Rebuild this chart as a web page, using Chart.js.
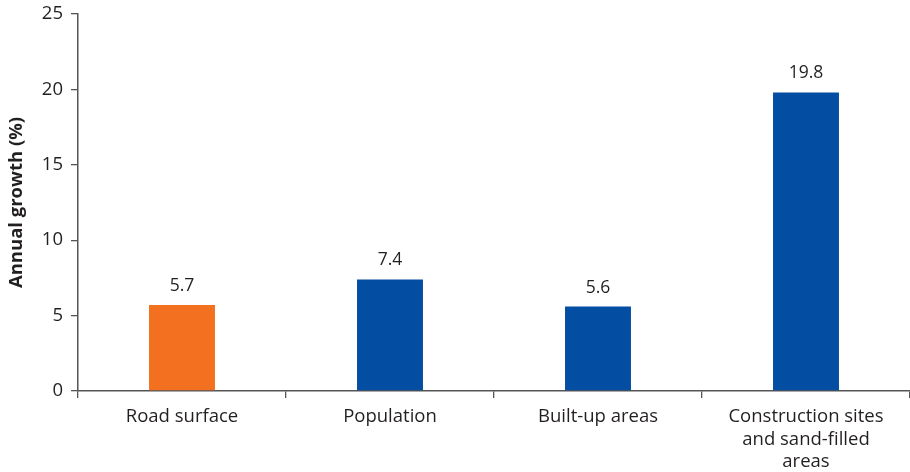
<!DOCTYPE html>
<html>
<head>
<meta charset="utf-8">
<script src="https://cdn.jsdelivr.net/npm/chart.js@4"></script>
<style>
  html, body { margin: 0; padding: 0; background: #fff; }
  #wrap { width: 910px; height: 472px; }
</style>
</head>
<body>
<div id="wrap"><canvas id="growth"></canvas></div>
<script>
const categories = [
    'Road surface',
    'Population',
    'Built-up areas',
    ['Construction sites', 'and sand-filled', 'areas']
];
const growthValues = [5.7, 7.4, 5.6, 19.8];
const barColors = ['#F37021', '#034EA2', '#034EA2', '#034EA2'];
const yTicks = [0, 5, 10, 15, 20, 25];

const axisColor = '#555555';
const textColor = '#231F20';
const fontFamily = "'Open Sans', 'Noto Sans', sans-serif";

// value labels above each bar
const barLabels = {
    id: 'barLabels',
    afterDatasetsDraw(chart) {
        const ctx = chart.ctx;
        const meta = chart.getDatasetMeta(0);
        ctx.save();
        ctx.fillStyle = textColor;
        ctx.font = `17.5px ${fontFamily}`;
        ctx.textAlign = 'center';
        ctx.textBaseline = 'middle';
        meta.data.forEach((bar, i) => {
            ctx.fillText(growthValues[i].toFixed(1), bar.x, bar.y - 19);
        });
        ctx.restore();
    }
};

const config = {
    type: 'bar',
    data: {
        labels: categories,
        datasets: [{
            data: growthValues,
            backgroundColor: barColors,
            categoryPercentage: 1,
            barPercentage: 0.317
        }]
    },
    options: {
        responsive: true,
        maintainAspectRatio: false,
        animation: false,
        layout: {
            padding: { top: 14, right: 0, bottom: 0, left: 0 }
        },
        plugins: {
            legend: { display: false },
            tooltip: { enabled: false }
        },
        scales: {
            x: {
                grid: {
                    offset: true,
                    drawOnChartArea: false,
                    drawTicks: true,
                    tickLength: 7,
                    color: axisColor,
                    lineWidth: 1.3
                },
                border: { color: axisColor, width: 1.5 },
                ticks: {
                    color: textColor,
                    padding: 8,
                    maxRotation: 0,
                    autoSkip: false,
                    font: { family: fontFamily, size: 18.5, lineHeight: 1.2 }
                },
                afterFit(scale) {
                    scale.height = 81;
                    scale.paddingLeft = 0;
                    scale.paddingRight = 0;
                }
            },
            y: {
                min: 0,
                max: 25,
                afterBuildTicks(scale) {
                    scale.ticks = yTicks.map(v => ({ value: v }));
                },
                grid: {
                    drawOnChartArea: false,
                    drawTicks: true,
                    tickLength: 7,
                    color: axisColor,
                    lineWidth: 1.3
                },
                border: { color: axisColor, width: 1.5 },
                ticks: {
                    color: textColor,
                    padding: 8,
                    font: { family: fontFamily, size: 18.5 }
                },
                title: {
                    display: true,
                    text: 'Annual growth (%)',
                    color: textColor,
                    padding: { top: 6, bottom: 4 },
                    font: { family: fontFamily, size: 18.5, weight: 'bold' }
                },
                afterFit(scale) {
                    scale.width = 78;
                    // let the top tick label sit in the layout padding
                    scale.paddingTop = 0;
                    scale.paddingBottom = 0;
                }
            }
        }
    },
    plugins: [barLabels]
};

new Chart(document.getElementById('growth'), config);
</script>
</body>
</html>
